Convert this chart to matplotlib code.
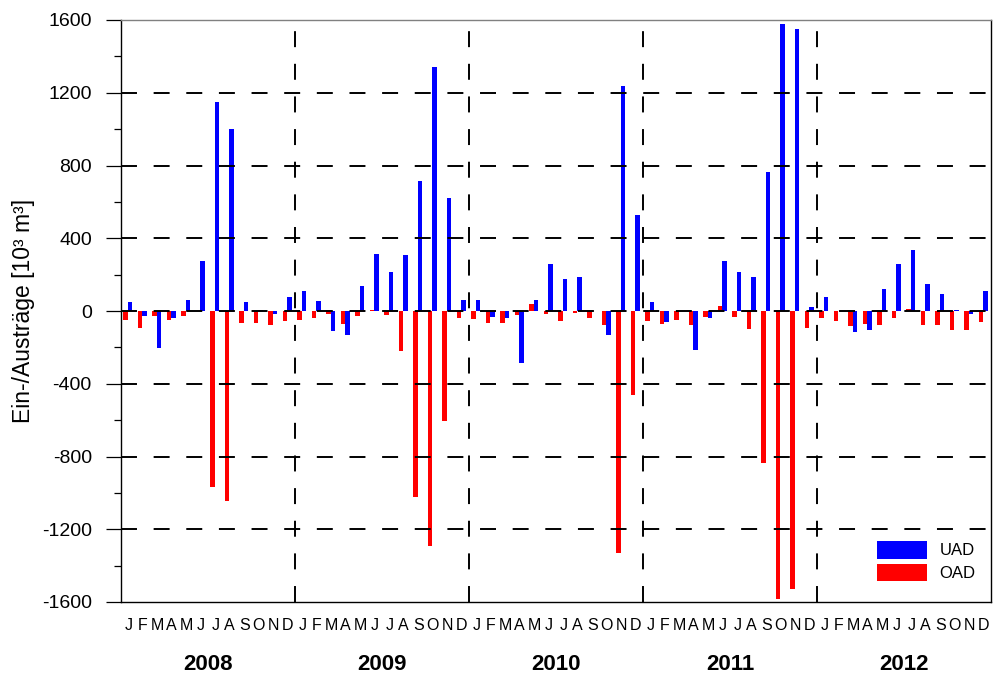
import matplotlib
matplotlib.use("Agg")
import matplotlib.pyplot as plt
from matplotlib.ticker import MultipleLocator
from matplotlib.transforms import blended_transform_factory

plt.rcParams['font.family'] = ['Liberation Sans', 'DejaVu Sans']
plt.rcParams['lines.scale_dashes'] = False
plt.rcParams['axes.unicode_minus'] = False

years = ['2008', '2009', '2010', '2011', '2012']
months = ['J', 'F', 'M', 'A', 'M', 'J', 'J', 'A', 'S', 'O', 'N', 'D']

# monthly inflow (UAD) and outflow (OAD), 10^3 m^3
uad = [50, -27, -203, -41, 59, 276, 1150, 1003, 50, 8, -19, 78,
       109, 54, -111, -133, 138, 312, 215, 307, 717, 1340, 620, 58,
       61, -34, -38, -285, 59, 257, 175, 186, 0, -133, 1236, 529,
       47, -62, 0, -215, -41, 276, 215, 188, 767, 1577, 1551, 21,
       76, 0, -117, -102, 120, 257, 336, 146, 96, 3, -16, 109]
oad = [-50, -91, -27, -50, -29, 0, -967, -1044, -67, -67, -78, -54,
       -47, -41, -16, -71, -29, 8, -23, -221, -1022, -1293, -606, -41,
       -45, -65, -65, -23, 37, -14, -54, -10, -41, -78, -1333, -463,
       -54, -73, -50, -78, -32, 28, -32, -98, -837, -1583, -1530, -93,
       -38, -56, -82, -69, -76, -38, 10, -78, -78, -106, -104, -63]

W, H = 993, 680
fig = plt.figure(figsize=(W / 100, H / 100), dpi=100)
ax = fig.add_axes([121 / W, 1 - 602 / H, (991 - 121) / W, (602 - 20) / H])

n = len(uad)
idx = list(range(n))
bw = 0.30
ax.bar([i + 0.32 for i in idx], oad, width=bw, color='#ff0000', label='OAD', zorder=2)
ax.bar([i + 0.61 for i in idx], uad, width=bw, color='#0000ff', label='UAD', zorder=2)

ax.set_xlim(0, n)
ax.set_ylim(-1600, 1600)

dash = (0, (11.5, 12.0))
for y in range(-1200, 1201, 400):
    ax.axhline(y, color='black', lw=1.4, linestyle=dash, zorder=3)
for k in range(1, len(years)):
    ax.axvline(12 * k, color='black', lw=1.4, linestyle=dash, zorder=3)

ax.yaxis.set_major_locator(MultipleLocator(400))
ax.yaxis.set_minor_locator(MultipleLocator(200))
ax.tick_params(axis='y', which='major', length=11, width=0.9, pad=10, labelsize=14)
ax.tick_params(axis='y', which='minor', length=5, width=0.9)
ax.set_xticks([])

for s in ['left', 'bottom', 'right']:
    ax.spines[s].set_color('black')
    ax.spines[s].set_linewidth(1.0)
ax.spines['top'].set_color('#808080')
ax.spines['top'].set_linewidth(1.0)

trans = blended_transform_factory(ax.transData, fig.transFigure)
for i in idx:
    ax.text(i + 0.5, 1 - 626 / H, months[i % 12], transform=trans,
            ha='center', va='center', fontsize=11.5)
for k, yr in enumerate(years):
    ax.text(12 * k + 6, 1 - 664 / H, yr, transform=trans, ha='center', va='center',
            fontsize=16, fontweight='bold')

fig.text(24 / W, 1 - 311 / H, 'Ein-/Austräge [10³ m³]', rotation=90,
         ha='center', va='center', fontsize=16.5)

handles, labels = ax.get_legend_handles_labels()
leg = ax.legend(handles[::-1], labels[::-1], loc='upper left',
                bbox_to_anchor=(877 / W, 1 - 541 / H), bbox_transform=fig.transFigure,
                frameon=False, fontsize=12, handlelength=3.0, handleheight=1.25,
                handletextpad=0.75, labelspacing=0.3, borderpad=0, borderaxespad=0)

fig.savefig('out.png', dpi=100)
